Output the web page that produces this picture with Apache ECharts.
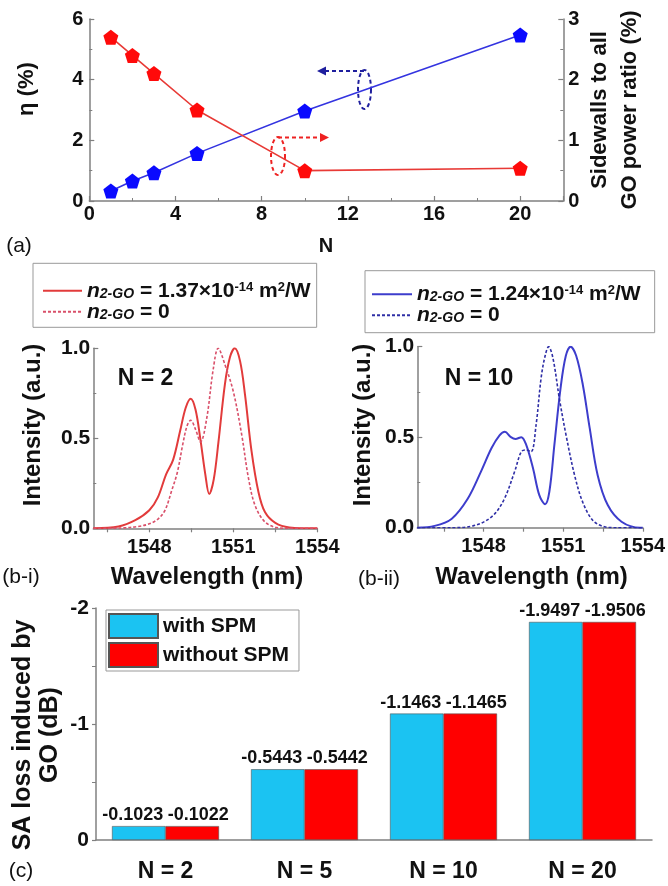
<!DOCTYPE html>
<html><head><meta charset="utf-8">
<script src="https://cdn.jsdelivr.net/npm/echarts@6/dist/echarts.min.js"></script>
<style>html,body{margin:0;padding:0;background:#fff}#c{width:668px;height:886px}</style>
</head><body><div id="c"></div>
<script>
const F = '"Liberation Sans", Arial, sans-serif';

// ---------- (a) ----------
const layerN = [1, 2, 3, 5, 10, 20];
const etaPercent = [0.33, 0.66, 0.93, 1.57, 2.97, 5.47];
const sidewallRatio = [2.70, 2.40, 2.10, 1.50, 0.50, 0.54];
const aXTicks = [0, 22, 4];   // min, max, interval
const aYLeft = [0, 6, 2];
const aYRight = [0, 3, 1];

// ---------- (b-i) N = 2 ----------
const wlB1Spm  = [1546.0,1546.9,1547.5,1548.0,1548.3,1548.6,1548.85,1549.1,1549.3,1549.48,1549.65,1549.82,1550.0,1550.14,1550.3,1550.47,1550.7,1550.88,1551.05,1551.24,1551.42,1551.65,1551.9,1552.13,1552.5,1553.0,1554.0];
const intB1Spm = [0.0,0.01,0.045,0.10,0.17,0.30,0.38,0.54,0.67,0.72,0.66,0.50,0.30,0.19,0.27,0.48,0.80,0.95,1.0,0.93,0.74,0.43,0.20,0.09,0.03,0.005,0.0];
const wlB1Ref  = [1546.0,1547.0,1547.6,1548.0,1548.3,1548.56,1548.8,1549.0,1549.2,1549.35,1549.48,1549.65,1549.83,1550.05,1550.28,1550.46,1550.7,1551.0,1551.3,1551.54,1551.77,1552.1,1552.5,1553.0,1554.0];
const intB1Ref = [0.0,0.002,0.01,0.025,0.05,0.10,0.21,0.31,0.47,0.57,0.60,0.55,0.48,0.61,0.88,1.0,0.91,0.76,0.52,0.28,0.13,0.04,0.006,0.0,0.0];

// ---------- (b-ii) N = 10 ----------
const wlB2Spm  = [1545.5,1546.15,1546.8,1547.4,1547.9,1548.3,1548.6,1548.8,1549.03,1549.2,1549.42,1549.6,1549.86,1550.1,1550.32,1550.48,1550.67,1550.9,1551.1,1551.28,1551.49,1551.74,1552.0,1552.3,1552.68,1553.2,1553.9,1554.0];
const intB2Spm = [0.0,0.01,0.05,0.16,0.31,0.44,0.51,0.53,0.50,0.49,0.50,0.46,0.33,0.18,0.13,0.20,0.46,0.77,0.95,1.0,0.95,0.79,0.55,0.29,0.125,0.033,0.0,0.0];
const wlB2Ref  = [1545.5,1546.8,1547.6,1548.3,1548.75,1549.17,1549.42,1549.6,1549.79,1549.98,1550.17,1550.32,1550.45,1550.61,1550.86,1551.11,1551.43,1551.74,1552.12,1552.56,1553.0,1554.0];
const intB2Ref = [0.0,0.0,0.01,0.06,0.15,0.31,0.42,0.43,0.42,0.57,0.83,0.95,1.0,0.94,0.71,0.51,0.29,0.14,0.04,0.005,0.0,0.0];
const bLabelValues = [1548, 1551, 1554];
const b1TickValues = [1546.5, 1548, 1549.5, 1551, 1552.5, 1554];
const b2TickValues = [1546.5, 1548, 1549.5, 1551, 1552.5, 1554];

// ---------- (c) ----------
const barCategories = ['N = 2', 'N = 5', 'N = 10', 'N = 20'];
const lossWithSpm = [-0.12, -0.61, -1.09, -1.88];
const lossWithoutSpm = [-0.12, -0.61, -1.09, -1.88];
const labelsWithSpm = ['-0.1023', '-0.5443', '-1.1463', '-1.9497'];
const labelsWithoutSpm = ['-0.1022', '-0.5442', '-1.1465', '-1.9506'];

const pairs = (xs, ys) => xs.map((x, i) => [x, ys[i]]);
const pentagon = 'path://M0,-10L9.511,-3.09L5.878,8.09L-5.878,8.09L-9.511,-3.09Z';
const AX = '#808080';

function axisBase(extra) {
  return Object.assign({
    axisLine: {show: true, onZero: false, lineStyle: {color: AX, width: 1.5}},
    axisTick: {show: true, inside: true, length: 5, lineStyle: {color: AX, width: 1.2}},
    minorTick: {show: true, splitNumber: 2, length: 3, lineStyle: {color: AX, width: 1}},
    splitLine: {show: false},
    axisLabel: {color: '#111', fontFamily: F, fontWeight: 'bold', fontSize: 20}
  }, extra);
}

function ellipsePts(cx, cy, rx, ry) {
  const p = [];
  for (let i = 0; i < 60; i++) { const t = i / 60 * 2 * Math.PI; p.push([cx + rx * Math.cos(t), cy + ry * Math.sin(t)]); }
  return p;
}

const texts = [
  {t: 'η (%)', x: 26.5, y: 89, r: 1, s: 22, w: 'bold'},
  {t: 'Sidewalls to all\nGO power ratio (%)', x: 614.5, y: 110, r: 1, s: 22, w: 'bold', lh: 30},
  {t: 'N', x: 326, y: 246, s: 20, w: 'bold'},
  {t: '(a)', x: 19, y: 246, s: 21, w: 'normal'},
  {t: 'Intensity (a.u.)', x: 33.5, y: 425, r: 1, s: 24, w: 'bold'},
  {t: 'Intensity (a.u.)', x: 363.5, y: 425, r: 1, s: 24, w: 'bold'},
  {t: 'N = 2', x: 145.5, y: 378.5, s: 23, w: 'bold'},
  {t: 'N = 10', x: 479, y: 379, s: 23, w: 'bold'},
  {t: '(b-i)', x: 21, y: 577, s: 21, w: 'normal'},
  {t: 'Wavelength (nm)', x: 207, y: 577, s: 24, w: 'bold'},
  {t: '(b-ii)', x: 379, y: 579, s: 21, w: 'normal'},
  {t: 'Wavelength (nm)', x: 531.5, y: 577, s: 24, w: 'bold'},
  {t: '(c)', x: 21, y: 871, s: 21, w: 'normal'},
  {t: 'SA loss induced by\nGO (dB)', x: 36.5, y: 735, r: 1, s: 25, w: 'bold', lh: 27}
];

const graphics = texts.map(o => ({
  type: 'text', x: o.x, y: o.y, rotation: o.r ? Math.PI / 2 : 0,
  style: {text: o.t, font: o.w + ' ' + o.s + 'px ' + F, fill: '#111',
    textAlign: 'center', textVerticalAlign: 'middle', align: 'center', verticalAlign: 'middle',
    lineHeight: o.lh || o.s}
}));
const BLUE_D = '#1f1f9e', RED_D = '#ee2222';
graphics.push(
  {type: 'polygon', shape: {points: ellipsePts(364.5, 89.5, 6.5, 19.5)}, style: {fill: 'none', stroke: BLUE_D, lineWidth: 2, lineDash: [4, 3]}},
  {type: 'line', shape: {x1: 325, y1: 71, x2: 365, y2: 71}, style: {stroke: BLUE_D, lineWidth: 2, lineDash: [4, 3]}},
  {type: 'polygon', shape: {points: [[317, 71], [326, 66.5], [326, 75.5]]}, style: {fill: BLUE_D}},
  {type: 'polygon', shape: {points: ellipsePts(278, 156, 7, 19)}, style: {fill: 'none', stroke: RED_D, lineWidth: 2, lineDash: [4, 3]}},
  {type: 'line', shape: {x1: 278, y1: 137.5, x2: 320, y2: 137.5}, style: {stroke: RED_D, lineWidth: 2, lineDash: [4, 3]}},
  {type: 'polygon', shape: {points: [[329, 137.5], [320, 133], [320, 142]]}, style: {fill: RED_D}}
);

const richN = {
  n: {fontFamily: F, fontStyle: 'italic', fontWeight: 'bold', fontSize: 21, lineHeight: 20, color: '#111'},
  sub: {fontFamily: F, fontStyle: 'italic', fontWeight: 'bold', fontSize: 14, lineHeight: 10, verticalAlign: 'bottom', color: '#111'},
  t: {fontFamily: F, fontWeight: 'bold', fontSize: 21, lineHeight: 20, color: '#111'},
  sup: {fontFamily: F, fontWeight: 'bold', fontSize: 13, lineHeight: 10, verticalAlign: 'top', color: '#111'}
};
const legendText = {
  b1s: '{n|n}{sub|2-GO}{t| = 1.37×10}{sup|-14}{t| m}{sup|2}{t|/W}',
  b1r: '{n|n}{sub|2-GO}{t| = 0}',
  b2s: '{n|n}{sub|2-GO}{t| = 1.24×10}{sup|-14}{t| m}{sup|2}{t|/W}',
  b2r: '{n|n}{sub|2-GO}{t| = 0}'
};

const option = {
  animation: false,
  backgroundColor: '#fff',
  graphic: graphics,
  grid: [
    {left: 89.3, top: 19, width: 474, height: 182},
    {left: 93.3, top: 348.3, width: 224, height: 180},
    {left: 417.3, top: 346.7, width: 225.7, height: 181},
    {left: 96, top: 608, width: 556, height: 232}
  ],
  legend: [
    {data: ['b1s', 'b1r'], orient: 'vertical', left: 33, top: 263.3, itemGap: 0, itemWidth: 39, itemHeight: 14,
      padding: [17, 6, 5, 9], borderColor: '#999', borderWidth: 1, itemStyle: {opacity: 0},
      formatter: n => legendText[n], textStyle: {rich: richN}},
    {data: ['b2s', 'b2r'], orient: 'vertical', left: 365, top: 270.7, itemGap: 0, itemWidth: 40, itemHeight: 14,
      padding: [13, 14, 7, 6], borderColor: '#999', borderWidth: 1, itemStyle: {opacity: 0},
      formatter: n => legendText[n], textStyle: {rich: richN}},
    {data: ['with SPM', 'without SPM'], orient: 'vertical', left: 106, top: 610, itemGap: 3, itemWidth: 49, itemHeight: 24,
      icon: 'rect', padding: [3, 10, 3, 2], borderColor: '#999', borderWidth: 1,
      textStyle: {fontFamily: F, fontWeight: 'bold', fontSize: 21, color: '#111'}}
  ],
  xAxis: [
    axisBase({gridIndex: 0, type: 'value', min: aXTicks[0], max: aXTicks[1], interval: aXTicks[2],
      axisLabel: {color: '#111', fontFamily: F, fontWeight: 'bold', fontSize: 20, margin: 3, formatter: v => v > 20 ? '' : String(v)}}),
    axisBase({gridIndex: 1, type: 'value', min: 1546, max: 1554,
      axisTick: {show: true, inside: false, length: 4, customValues: b1TickValues, lineStyle: {color: AX, width: 1.2}},
      minorTick: {show: false},
      axisLabel: {color: '#111', fontFamily: F, fontWeight: 'bold', fontSize: 20, margin: 9, customValues: bLabelValues, formatter: v => String(v)}}),
    axisBase({gridIndex: 2, type: 'value', min: 1545.5, max: 1554,
      axisTick: {show: true, inside: false, length: 4, customValues: b2TickValues, lineStyle: {color: AX, width: 1.2}},
      minorTick: {show: false},
      axisLabel: {color: '#111', fontFamily: F, fontWeight: 'bold', fontSize: 20, margin: 9, customValues: bLabelValues, formatter: v => String(v)}}),
    axisBase({gridIndex: 3, type: 'category', data: barCategories,
      axisTick: {show: false}, minorTick: {show: false},
      axisLabel: {color: '#111', fontFamily: F, fontWeight: 'bold', fontSize: 23, margin: 20}})
  ],
  yAxis: [
    axisBase({gridIndex: 0, type: 'value', min: aYLeft[0], max: aYLeft[1], interval: aYLeft[2],
      axisLabel: {color: '#111', fontFamily: F, fontWeight: 'bold', fontSize: 20, margin: 6}}),
    axisBase({gridIndex: 0, type: 'value', position: 'right', min: aYRight[0], max: aYRight[1], interval: aYRight[2],
      axisLabel: {color: '#111', fontFamily: F, fontWeight: 'bold', fontSize: 20, margin: 5}}),
    axisBase({gridIndex: 1, type: 'value', min: 0, max: 1, interval: 0.5,
      axisLabel: {color: '#111', fontFamily: F, fontWeight: 'bold', fontSize: 21, margin: 3, formatter: v => v.toFixed(1)}}),
    axisBase({gridIndex: 2, type: 'value', min: 0, max: 1, interval: 0.5,
      axisLabel: {color: '#111', fontFamily: F, fontWeight: 'bold', fontSize: 21, margin: 3, formatter: v => v.toFixed(1)}}),
    axisBase({gridIndex: 3, type: 'value', min: -2, max: 0, interval: 1, inverse: true,
      axisTick: {show: true, inside: false, length: 4, lineStyle: {color: AX, width: 1.2}},
      minorTick: {show: true, splitNumber: 2, length: 4, lineStyle: {color: AX, width: 1}},
      axisLabel: {color: '#111', fontFamily: F, fontWeight: 'bold', fontSize: 21, margin: 7}})
  ],
  series: [
    {name: 'eta', type: 'line', xAxisIndex: 0, yAxisIndex: 0, data: pairs(layerN, etaPercent),
      symbol: pentagon, symbolSize: 15, itemStyle: {color: '#0a0aff'}, lineStyle: {color: '#3434e0', width: 1.6}, z: 3},
    {name: 'ratio', type: 'line', xAxisIndex: 0, yAxisIndex: 1, data: pairs(layerN, sidewallRatio),
      symbol: pentagon, symbolSize: 15, itemStyle: {color: '#ff0a0a'}, lineStyle: {color: '#e83a36', width: 1.6}, z: 3},
    {name: 'b1s', type: 'line', xAxisIndex: 1, yAxisIndex: 2, data: pairs(wlB1Spm, intB1Spm), smooth: 0.35, symbol: 'none',
      itemStyle: {color: '#e23b3b'}, lineStyle: {color: '#e23b3b', width: 2}},
    {name: 'b1r', type: 'line', xAxisIndex: 1, yAxisIndex: 2, data: pairs(wlB1Ref, intB1Ref), smooth: 0.35, symbol: 'none',
      itemStyle: {color: '#d9506a'}, lineStyle: {color: '#d9506a', width: 1.6, type: [3, 2]}},
    {name: 'b2s', type: 'line', xAxisIndex: 2, yAxisIndex: 3, data: pairs(wlB2Spm, intB2Spm), smooth: 0.35, symbol: 'none',
      itemStyle: {color: '#3d3dcc'}, lineStyle: {color: '#3d3dcc', width: 2}},
    {name: 'b2r', type: 'line', xAxisIndex: 2, yAxisIndex: 3, data: pairs(wlB2Ref, intB2Ref), smooth: 0.35, symbol: 'none',
      itemStyle: {color: '#2f2fa6'}, lineStyle: {color: '#2f2fa6', width: 1.6, type: [3, 2]}},
    {name: 'with SPM', type: 'bar', xAxisIndex: 3, yAxisIndex: 4, data: lossWithSpm, barGap: '0%', barCategoryGap: '23%',
      itemStyle: {color: '#1bc3f2', borderColor: '#555', borderWidth: 0.6},
      label: {show: true, position: 'top', distance: 2, offset: [-6, 0], formatter: p => labelsWithSpm[p.dataIndex],
        fontFamily: F, fontWeight: 'bold', fontSize: 18, color: '#111'}},
    {name: 'without SPM', type: 'bar', xAxisIndex: 3, yAxisIndex: 4, data: lossWithoutSpm,
      itemStyle: {color: '#ff0000', borderColor: '#555', borderWidth: 0.6},
      label: {show: true, position: 'top', distance: 2, offset: [6, 0], formatter: p => labelsWithoutSpm[p.dataIndex],
        fontFamily: F, fontWeight: 'bold', fontSize: 18, color: '#111'}}
  ]
};

const chart = echarts.init(document.getElementById('c'), null, {renderer: 'canvas'});
chart.setOption(option);
</script>
</body></html>
